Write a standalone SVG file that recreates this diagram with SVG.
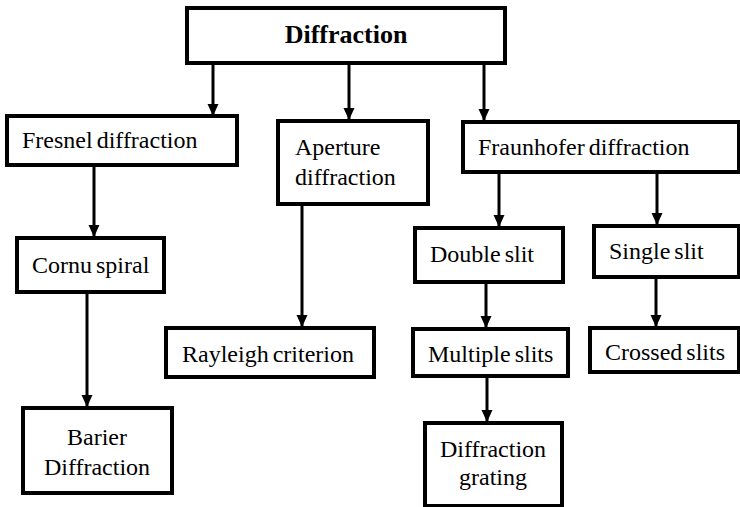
<svg xmlns="http://www.w3.org/2000/svg" width="740" height="507" viewBox="0 0 740 507">
  <defs>
    <marker id="arrow" markerUnits="userSpaceOnUse" markerWidth="12" markerHeight="12" viewBox="0 0 12 12" refX="12" refY="6" orient="auto">
      <path d="M0,0.5 L12,6 L0,11.5 Z" fill="#000000"/>
    </marker>
  </defs>
  <rect width="740" height="507" fill="#ffffff"/>

  <!-- connectors: straight drops ending in filled arrowheads -->
  <g id="connectors" stroke="#000000" stroke-width="3" fill="none" marker-end="url(#arrow)">
    <line x1="213" y1="63" x2="213" y2="116"/>
    <line x1="349" y1="63" x2="349" y2="120"/>
    <line x1="484" y1="63" x2="484" y2="121"/>
    <line x1="94" y1="165" x2="94" y2="237"/>
    <line x1="87" y1="292" x2="87" y2="407"/>
    <line x1="302" y1="204" x2="302" y2="327"/>
    <line x1="499" y1="172" x2="499" y2="227"/>
    <line x1="657" y1="172" x2="657" y2="225"/>
    <line x1="486" y1="282" x2="486" y2="328"/>
    <line x1="656" y1="277" x2="656" y2="327"/>
    <line x1="487" y1="376" x2="487" y2="422"/>
  </g>

  <!-- nodes: white boxes with heavy black outline -->
  <g id="diffraction">
    <rect x="187" y="8" width="318" height="55" fill="#ffffff" stroke="#000000" stroke-width="4"/>
    <text x="346" y="43" font-family="'Liberation Serif'" font-size="26" font-weight="bold" text-anchor="middle">Diffraction</text>
  </g>
  <g id="fresnel">
    <rect x="7" y="116" width="230" height="49" fill="#ffffff" stroke="#000000" stroke-width="4"/>
    <text x="22" y="148" font-family="'Liberation Serif'" font-size="24" word-spacing="-2">Fresnel diffraction</text>
  </g>
  <g id="aperture">
    <rect x="278" y="121" width="150" height="83" fill="#ffffff" stroke="#000000" stroke-width="4"/>
    <text x="295" y="155" font-family="'Liberation Serif'" font-size="24">Aperture</text>
    <text x="295" y="185" font-family="'Liberation Serif'" font-size="24">diffraction</text>
  </g>
  <g id="fraunhofer">
    <rect x="463" y="122" width="276" height="50" fill="#ffffff" stroke="#000000" stroke-width="4"/>
    <text x="478" y="155" font-family="'Liberation Serif'" font-size="24" word-spacing="-2">Fraunhofer diffraction</text>
  </g>
  <g id="cornu">
    <rect x="17" y="238" width="147" height="54" fill="#ffffff" stroke="#000000" stroke-width="4"/>
    <text x="32" y="273" font-family="'Liberation Serif'" font-size="24" word-spacing="-2">Cornu spiral</text>
  </g>
  <g id="barier">
    <rect x="23" y="408" width="149" height="85" fill="#ffffff" stroke="#000000" stroke-width="4"/>
    <text x="97" y="445" font-family="'Liberation Serif'" font-size="24" text-anchor="middle">Barier</text>
    <text x="97" y="475" font-family="'Liberation Serif'" font-size="24" text-anchor="middle">Diffraction</text>
  </g>
  <g id="rayleigh">
    <rect x="166" y="328" width="208" height="49" fill="#ffffff" stroke="#000000" stroke-width="4"/>
    <text x="182" y="362" font-family="'Liberation Serif'" font-size="24" word-spacing="-2">Rayleigh criterion</text>
  </g>
  <g id="double-slit">
    <rect x="415" y="228" width="148" height="54" fill="#ffffff" stroke="#000000" stroke-width="4"/>
    <text x="430" y="262" font-family="'Liberation Serif'" font-size="24" word-spacing="-2">Double slit</text>
  </g>
  <g id="single-slit">
    <rect x="594" y="226" width="145" height="51" fill="#ffffff" stroke="#000000" stroke-width="4"/>
    <text x="609" y="259" font-family="'Liberation Serif'" font-size="24" word-spacing="-2">Single slit</text>
  </g>
  <g id="multiple-slits">
    <rect x="413" y="329" width="155" height="47" fill="#ffffff" stroke="#000000" stroke-width="4"/>
    <text x="428" y="362" font-family="'Liberation Serif'" font-size="24" word-spacing="-2">Multiple slits</text>
  </g>
  <g id="crossed-slits">
    <rect x="590" y="328" width="149" height="44" fill="#ffffff" stroke="#000000" stroke-width="4"/>
    <text x="605" y="360" font-family="'Liberation Serif'" font-size="24" word-spacing="-2">Crossed slits</text>
  </g>
  <g id="grating">
    <rect x="425" y="423" width="137" height="83" fill="#ffffff" stroke="#000000" stroke-width="4"/>
    <text x="493" y="457" font-family="'Liberation Serif'" font-size="24" text-anchor="middle">Diffraction</text>
    <text x="493" y="485" font-family="'Liberation Serif'" font-size="24" text-anchor="middle">grating</text>
  </g>
</svg>
